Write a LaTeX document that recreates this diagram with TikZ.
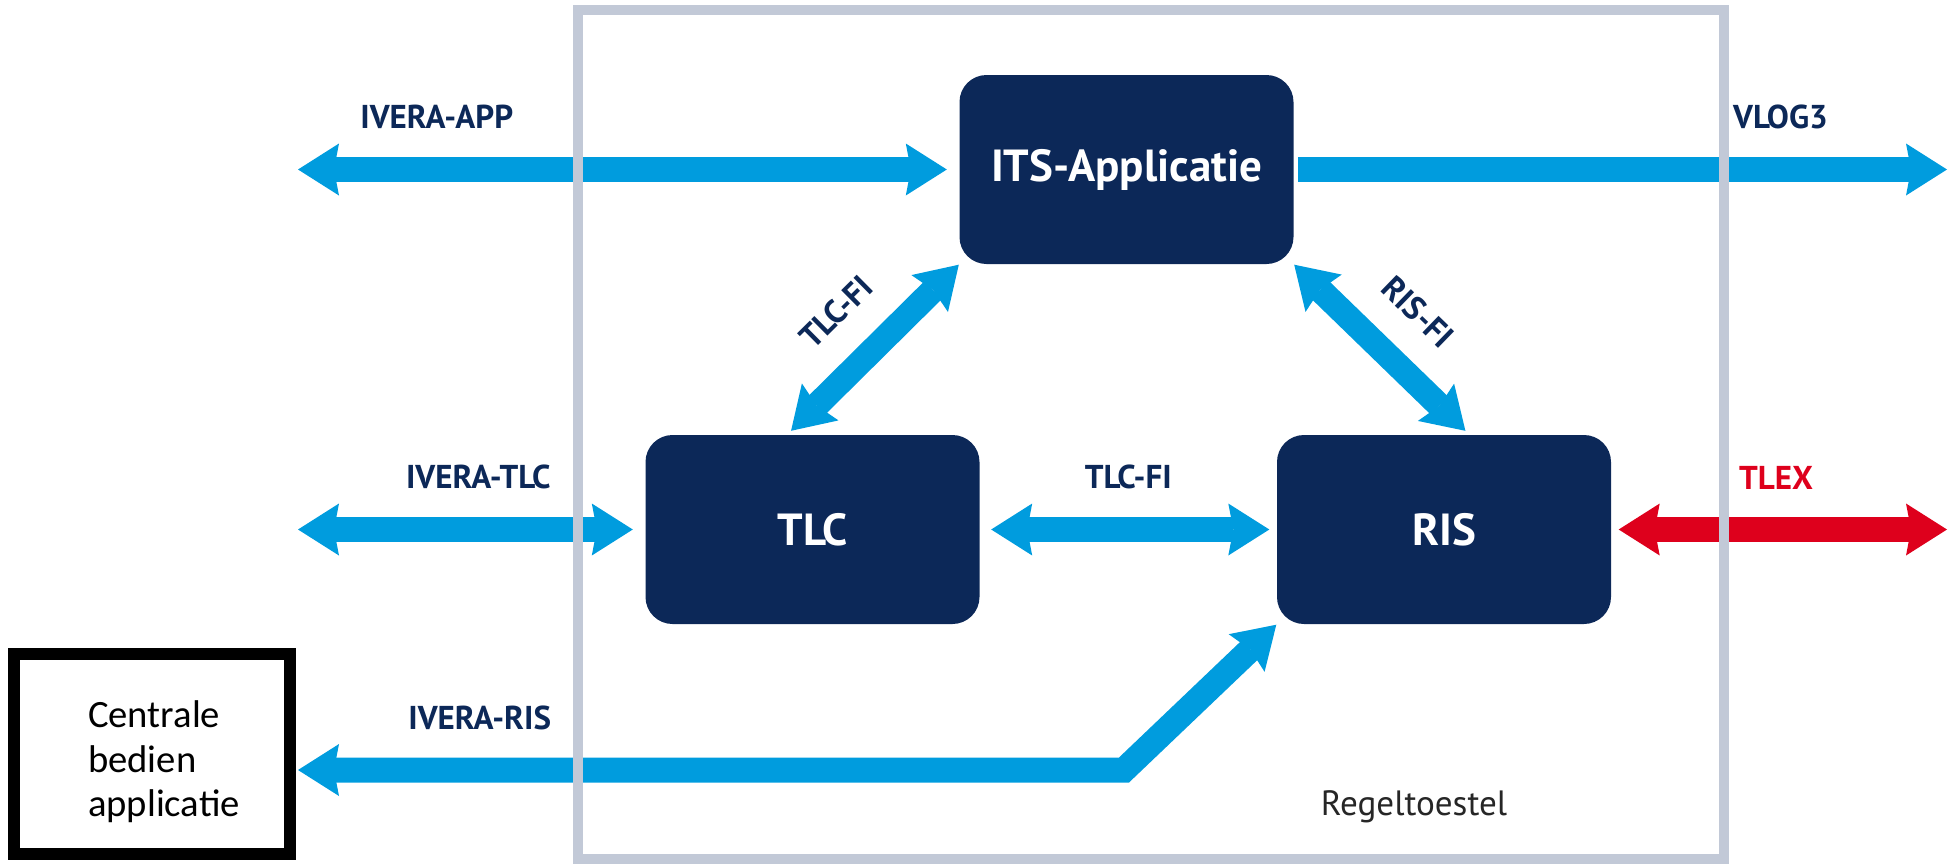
\documentclass[tikz,border=0pt]{standalone}
\usepackage{fontspec}
\setmainfont{PT Sans}
\newfontfamily\carlito{Carlito}
\usetikzlibrary{arrows.meta}
\definecolor{navy}{RGB}{12,40,88}
\definecolor{skyblue}{RGB}{0,156,222}
\definecolor{tlexred}{RGB}{222,0,28}
\definecolor{framegrey}{RGB}{194,201,215}
\newcommand\boxfnt{\bfseries\fontsize{12.8}{14}\selectfont}
\newcommand\lblfnt{\bfseries\fontsize{9.4}{10}\selectfont}
\tikzset{fat/.tip={Stealth[length=4.1mm,width=5.2mm,inset=0.5mm,line width=0pt]}}

\begin{document}
\begin{tikzpicture}[x=0.1mm,y=0.1mm,
	box/.style={rounded corners=2.7mm, fill=navy, text=white, minimum width=33.4mm, minimum height=18.9mm, font=\boxfnt},
	link/.style={line width=2.5mm, draw=skyblue, fat-fat},
	lbl/.style={font=\lblfnt, text=navy, inner sep=0pt, above=2.8mm}]
	%\draw[help lines] (0,0) grid (1949,864);
	\useasboundingbox (0,0) rectangle (1949,864);
	\node[box] (its) at (1126.5,694.5) {ITS-Applicatie};
	\node[box] (tlc) at (812.5,334.5) {TLC};
	\node[box] (ris) at (1444,334.5) {RIS};
	\node[draw, line width=1.2mm, minimum width=27.6mm, minimum height=20mm] (cba) at (152,110) {};
	\node[align=left, font=\carlito\fontsize{11}{12.7}\selectfont] (cbatxt) at (164,102) {Centrale\\bedien\\applicatie};
	\coordinate (appL) at (298,694.5);
	\coordinate (vlogR) at (1947,694.5);
	\coordinate (tlcL) at (298,334.5);
	\coordinate (tlexR) at (1947,334.5);
	\coordinate (risL) at (298,94);
	\coordinate (bend) at (1124,94);
	\draw[link, shorten >=1.2mm] (appL) -- node[lbl, pos=.21] (lapp) {IVERA-APP} (its.west);
	\draw[link, -fat, shorten <=0.4mm] (its.east) -- node[lbl, pos=.745] (lvlog) {VLOG3} (vlogR);
	\draw[link, shorten >=1.2mm] (tlcL) -- node[lbl, pos=.52] (livtlc) {IVERA-TLC} (tlc.west);
	\draw[link, shorten <=1.1mm, shorten >=0.7mm] (tlc.east) -- node[lbl] (lfi) {TLC-FI} (ris.west);
	\draw[link, draw=tlexred, shorten <=0.7mm] (ris.east) -- node[lbl, text=tlexred, pos=.49] (ltlex) {TLEX} (tlexR);
	\draw[link, shorten <=0.5mm] ([xshift=-2.5mm]tlc.north) -- node[lbl, sloped] (ltlcfi) {TLC-FI} (its.south west);
	\draw[link, shorten >=0.5mm] (its.south east) -- node[lbl, sloped] (lrisfi) {RIS-FI} ([xshift=2.5mm]ris.north);
	\draw[link] (risL) -- node[lbl, pos=.22] (livris) {IVERA-RIS} (bend) -- (ris.south west);
	\draw[framegrey, line width=1mm] (578,5) rectangle (1724,854);
	\node[font=\fontsize{10}{12}\selectfont, text=black!85] (rt) at (1414,57) {Regeltoestel};
\end{tikzpicture}
\end{document}
